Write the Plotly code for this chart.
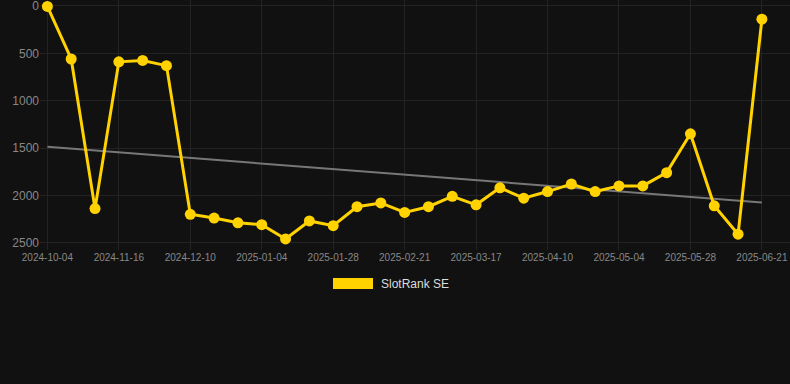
import plotly.graph_objects as go

dates = [
    "2024-10-04", "2024-10-18", "2024-11-01", "2024-11-16", "2024-11-24",
    "2024-12-02", "2024-12-10", "2024-12-18", "2024-12-27", "2025-01-04",
    "2025-01-12", "2025-01-20", "2025-01-28", "2025-02-05", "2025-02-13",
    "2025-02-21", "2025-03-01", "2025-03-09", "2025-03-17", "2025-03-25",
    "2025-04-02", "2025-04-10", "2025-04-18", "2025-04-26", "2025-05-04",
    "2025-05-12", "2025-05-20", "2025-05-28", "2025-06-05", "2025-06-13",
    "2025-06-21",
]
ranks = [
    5, 560, 2140, 590, 575, 630, 2200, 2240, 2290, 2310,
    2460, 2270, 2320, 2120, 2080, 2180, 2120, 2010, 2100, 1920,
    2030, 1960, 1880, 1960, 1900, 1900, 1760, 1350, 2110, 2410,
    140,
]
trend_x = [dates[0], dates[-1]]
trend_y = [1487, 2075]
tick_labels = dates[::3]
series_name = "SlotRank SE"

GOLD = "#FFD200"
BG = "#111111"
GRID = "#232323"

fig = go.Figure()
fig.add_trace(go.Scatter(
    x=trend_x, y=trend_y, mode="lines",
    line=dict(color="#777777", width=2),
    showlegend=False, hoverinfo="skip",
))
fig.add_trace(go.Scatter(
    x=dates, y=ranks, mode="lines+markers", name=series_name,
    line=dict(color=GOLD, width=3),
    marker=dict(color=GOLD, size=11),
    cliponaxis=False, showlegend=False,
))

L, R, T, B = 40, 0, 0, 134
W, H = 790, 384
pw, ph = W - L - R, H - T - B

def px_x(p):
    return (p - L) / pw

def px_y(p):
    return (H - B - p) / ph

fig.add_shape(type="rect", xref="paper", yref="paper",
              x0=px_x(333), x1=px_x(373), y0=px_y(289), y1=px_y(278),
              fillcolor=GOLD, line=dict(width=0))
fig.add_annotation(x=px_x(379), y=px_y(284), xref="paper", yref="paper",
                   text=series_name, showarrow=False, xanchor="left",
                   yanchor="middle", font=dict(size=12, color="#dddddd"))

fig.update_layout(
    width=W, height=H,
    margin=dict(l=L, r=R, t=T, b=B, pad=0),
    paper_bgcolor=BG, plot_bgcolor=BG,
    font=dict(family="Liberation Sans, Arial, sans-serif", color="#888888"),
    showlegend=False,
)
fig.update_xaxes(
    type="category", categoryorder="array", categoryarray=dates,
    range=[-0.31, 31.18],
    tickmode="array", tickvals=tick_labels, ticktext=tick_labels,
    tickfont=dict(size=10, color="#888888"),
    showgrid=True, gridcolor=GRID, gridwidth=1,
    zeroline=False, showline=False, ticks="",
    ticklabeloverflow="allow",
)
fig.update_yaxes(
    range=[2577, -63],
    tickvals=[0, 500, 1000, 1500, 2000, 2500],
    tickfont=dict(size=12, color="#888888"),
    showgrid=True, gridcolor=GRID, gridwidth=1,
    zeroline=False, showline=False, ticks="",
    ticklabeloverflow="allow",
)

fig.write_html(
    "out.html",
    config={"displayModeBar": False},
    post_script=(
        "document.body.style.margin='0';"
        "document.body.style.padding='0';"
        "document.body.style.background='#111111';"
        "document.documentElement.style.overflow='hidden';"
    ),
)
